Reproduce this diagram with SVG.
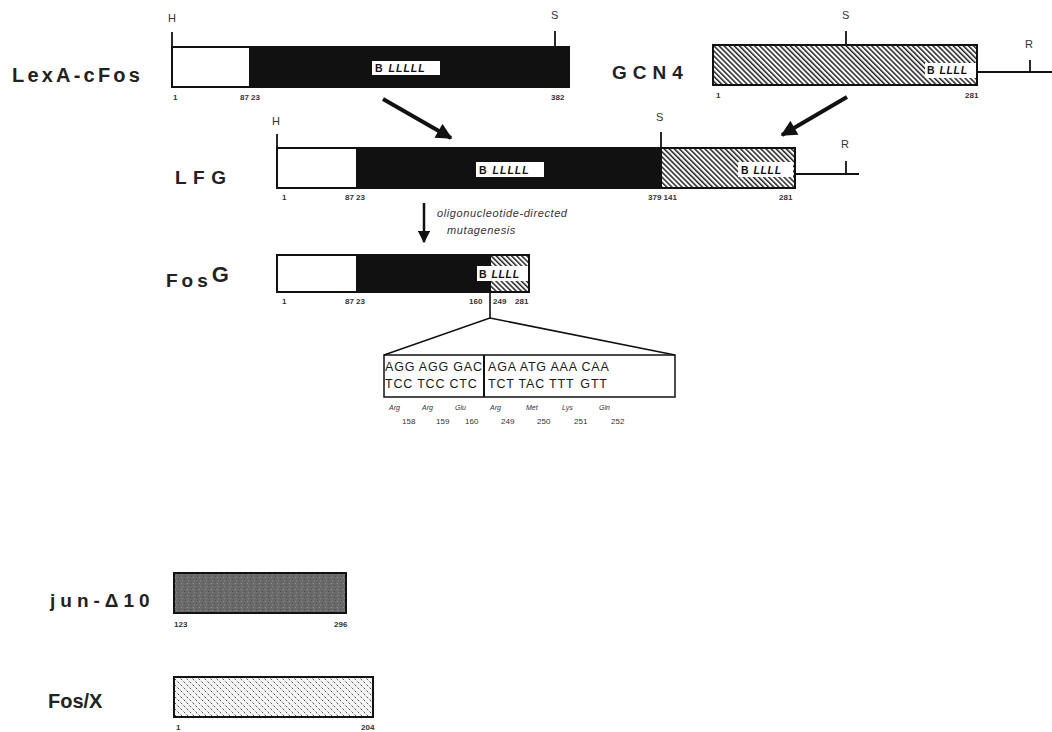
<svg xmlns="http://www.w3.org/2000/svg" width="1052" height="732" viewBox="0 0 1052 732">
<style>
.lbl{font-family:"Liberation Sans",Arial,sans-serif;font-weight:bold;fill:#222}
.site{font-family:"Liberation Sans",Arial,sans-serif;font-size:11px;fill:#333}
.num{font-family:"Liberation Sans",Arial,sans-serif;font-size:8px;font-weight:bold;fill:#333}
.bx{stroke:#111;stroke-width:2}
.tick{stroke:#111;stroke-width:1.8;fill:none}
.bl{font-family:"Liberation Sans",Arial,sans-serif;font-size:10.5px;font-weight:bold;fill:#111}
.codon{font-family:"Liberation Sans",Arial,sans-serif;font-size:12.5px;letter-spacing:0.8px;fill:#1a1a1a}
.aa{font-family:"Liberation Sans",Arial,sans-serif;font-size:7px;font-style:italic;fill:#333}
.aan{font-family:"Liberation Sans",Arial,sans-serif;font-size:8px;fill:#333}
.arr{stroke:#111;fill:none}
</style>
<defs>
<pattern id="hatch" width="3.6" height="3.6" patternUnits="userSpaceOnUse" patternTransform="rotate(-45)">
<rect width="3.6" height="3.6" fill="#fff"/>
<rect width="1.5" height="3.6" fill="#222"/>
</pattern>
<pattern id="grain" width="6" height="6" patternUnits="userSpaceOnUse">
<rect width="6" height="6" fill="#6a6a6a"/>
<rect x="1" y="1" width="1" height="1" fill="#909090"/>
<rect x="4" y="3" width="1" height="1" fill="#4a4a4a"/>
<rect x="2" y="4" width="1" height="1" fill="#848484"/>
<rect x="5" y="0" width="1" height="1" fill="#555"/>
</pattern>
<pattern id="speck" width="6" height="6" patternUnits="userSpaceOnUse">
<rect width="6" height="6" fill="#f6f6f6"/>
<path d="M0.5 0.5 L2.2 2.2 M3.5 3.5 L5.2 5.2" stroke="#555" stroke-width="1"/>
</pattern>
<marker id="ah" viewBox="0 0 10 10" refX="9" refY="5" markerWidth="4.5" markerHeight="4" orient="auto" markerUnits="strokeWidth">
<path d="M0 0 L10 5 L0 10 Z" fill="#111"/>
</marker>
<marker id="ah2" viewBox="0 0 10 10" refX="9" refY="5" markerWidth="5" markerHeight="5" orient="auto" markerUnits="strokeWidth">
<path d="M0 0 L10 5 L0 10 Z" fill="#111"/>
</marker>
</defs>
<rect width="1052" height="732" fill="#fff"/>

<g id="lexa-cfos">
<text class="lbl" x="12" y="82" font-size="20" letter-spacing="3.2">LexA-cFos</text>
<line class="tick" x1="172" y1="32" x2="172" y2="47"/>
<text class="site" x="168" y="22">H</text>
<line class="tick" x1="555" y1="31" x2="555" y2="47"/>
<text class="site" x="551" y="19">S</text>
<rect class="bx" x="172" y="47" width="78" height="40" fill="#fff"/>
<rect class="bx" x="250" y="47" width="319" height="40" fill="#111"/>
<rect x="372" y="61" width="68" height="14" fill="#fff"/>
<text class="bl" x="375" y="72">B<tspan dx="6" font-style="italic" letter-spacing="1">LLLLL</tspan></text>
<text class="num" x="173" y="100">1</text>
<text class="num" x="240" y="100">87 23</text>
<text class="num" x="551" y="100">382</text>
</g>

<g id="gcn4">
<text class="lbl" x="612" y="79" font-size="19" letter-spacing="6">GCN4</text>
<line class="tick" x1="846" y1="31" x2="846" y2="45"/>
<text class="site" x="842" y="19">S</text>
<rect class="bx" x="713" y="45" width="264" height="40" fill="url(#hatch)"/>
<rect x="925" y="63" width="51" height="15" fill="#fff"/>
<text class="bl" x="927" y="74">B<tspan dx="5" font-style="italic" letter-spacing="0.6">LLLL</tspan></text>
<line class="tick" x1="977" y1="72" x2="1052" y2="72"/>
<line class="tick" x1="1030" y1="60" x2="1030" y2="72"/>
<text class="site" x="1025" y="48">R</text>
<text class="num" x="716" y="98">1</text>
<text class="num" x="965" y="98">281</text>
</g>

<g id="lfg">
<text class="lbl" x="175" y="184" font-size="19" letter-spacing="6.5">LFG</text>
<line class="tick" x1="277" y1="134" x2="277" y2="148"/>
<text class="site" x="272" y="125">H</text>
<line class="tick" x1="661" y1="132" x2="661" y2="148"/>
<text class="site" x="656" y="121">S</text>
<rect class="bx" x="277" y="148" width="80" height="40" fill="#fff"/>
<rect class="bx" x="357" y="148" width="304" height="40" fill="#111"/>
<rect class="bx" x="661" y="148" width="134" height="40" fill="url(#hatch)"/>
<rect x="476" y="162" width="68" height="15" fill="#fff"/>
<text class="bl" x="479" y="174">B<tspan dx="6" font-style="italic" letter-spacing="1">LLLLL</tspan></text>
<rect x="738" y="162" width="55" height="15" fill="#fff"/>
<text class="bl" x="741" y="174">B<tspan dx="5" font-style="italic" letter-spacing="0.6">LLLL</tspan></text>
<line class="tick" x1="795" y1="174" x2="859" y2="174"/>
<line class="tick" x1="846" y1="161" x2="846" y2="174"/>
<text class="site" x="841" y="148">R</text>
<text class="num" x="282" y="200">1</text>
<text class="num" x="345" y="200">87 23</text>
<text class="num" x="648" y="200">379 141</text>
<text class="num" x="779" y="200">281</text>
</g>

<g id="mutagenesis-label">
<text class="site" x="437" y="217" font-style="italic" font-size="11.5" letter-spacing="0.6">oligonucleotide-directed</text>
<text class="site" x="447" y="234" font-style="italic" font-size="11.5" letter-spacing="0.6">mutagenesis</text>
</g>

<g id="fosg">
<text class="lbl" x="166" y="287" font-size="19" letter-spacing="4">Fos<tspan dy="-5" font-size="22">G</tspan></text>
<rect class="bx" x="277" y="255" width="80" height="37" fill="#fff"/>
<rect class="bx" x="357" y="255" width="133" height="37" fill="#111"/>
<rect class="bx" x="490" y="255" width="39" height="37" fill="url(#hatch)"/>
<rect x="477" y="266" width="51" height="15" fill="#fff"/>
<text class="bl" x="479" y="278">B<tspan dx="5" font-style="italic" letter-spacing="0.6">LLLL</tspan></text>
<text class="num" x="282" y="304">1</text>
<text class="num" x="345" y="304">87 23</text>
<text class="num" x="469" y="304">160</text>
<text class="num" x="493" y="304">249</text>
<text class="num" x="515" y="304">281</text>
</g>

<g id="sequence">
<rect x="384" y="355" width="291" height="42" fill="#fff" stroke="#111" stroke-width="1.5"/>
<line x1="484" y1="355" x2="484" y2="397" stroke="#111" stroke-width="2"/>
<text class="codon" x="385" y="371">AGG AGG GAC</text>
<text class="codon" x="385" y="388">TCC TCC CTC</text>
<text class="codon" x="488" y="371">AGA ATG AAA CAA</text>
<text class="codon" x="488" y="388">TCT TAC TTT<tspan dx="6">GTT</tspan></text>
<text class="aa" x="389" y="410">Arg</text>
<text class="aa" x="422" y="410">Arg</text>
<text class="aa" x="455" y="410">Glu</text>
<text class="aa" x="490" y="410">Arg</text>
<text class="aa" x="526" y="410">Met</text>
<text class="aa" x="562" y="410">Lys</text>
<text class="aa" x="599" y="410">Gln</text>
<text class="aan" x="402" y="424">158</text>
<text class="aan" x="436" y="424">159</text>
<text class="aan" x="465" y="424">160</text>
<text class="aan" x="501" y="424">249</text>
<text class="aan" x="537" y="424">250</text>
<text class="aan" x="574" y="424">251</text>
<text class="aan" x="611" y="424">252</text>
</g>

<g id="jun-d10">
<text class="lbl" x="50" y="607" font-size="19" letter-spacing="5">jun-Δ10</text>
<rect class="bx" x="174" y="573" width="172" height="40" fill="url(#grain)"/>
<text class="num" x="174" y="627">123</text>
<text class="num" x="334" y="627">296</text>
</g>

<g id="fos-x">
<text class="lbl" x="48" y="708" font-size="20">Fos/X</text>
<rect class="bx" x="174" y="677" width="199" height="40" fill="url(#speck)"/>
<text class="num" x="176" y="730">1</text>
<text class="num" x="361" y="730">204</text>
</g>

<g id="connectors">
<line class="arr" x1="383" y1="99" x2="451" y2="138" stroke-width="4" marker-end="url(#ah)"/>
<line class="arr" x1="847" y1="97" x2="782" y2="135" stroke-width="4" marker-end="url(#ah)"/>
<line class="arr" x1="424" y1="203" x2="424" y2="242" stroke-width="2.5" marker-end="url(#ah2)"/>
<path d="M490 292 L490 318 L384 355 M490 318 L675 355" fill="none" stroke="#111" stroke-width="1.6"/>
</g>
</svg>
